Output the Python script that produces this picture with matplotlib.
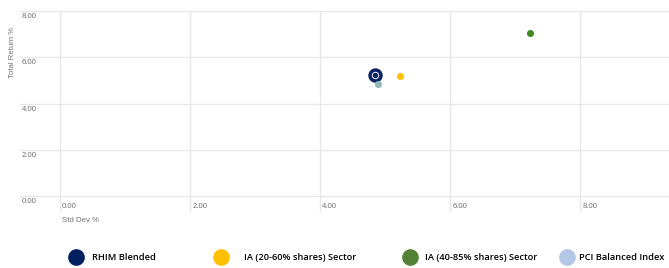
import matplotlib
matplotlib.use("Agg")
import matplotlib.pyplot as plt
from matplotlib.lines import Line2D

# ---- data ----
series = ["RHIM Blended", "IA (20-60% shares) Sector", "IA (40-85% shares) Sector", "PCI Balanced Index"]
std_dev = [4.84, 5.22, 7.23, 4.89]
total_return = [5.25, 5.18, 7.04, 4.83]
point_colors = ["#0b2461", "#ffc000", "#3b8a22", "#8fb9b9"]
legend_colors = ["#002060", "#ffc000", "#548235", "#b4c7e7"]
x_ticks = [0, 2, 4, 6, 8]
y_ticks = [0, 2, 4, 6, 8]
x_tick_labels = ["0.00", "2.00", "4.00", "6.00", "8.00"]
y_tick_labels = ["0.00", "2.00", "4.00", "6.00", "8.00"]

W, H = 669, 268
fig = plt.figure(figsize=(W / 100, H / 100), dpi=100)
fig.patch.set_facecolor("white")

# axes spans pixel x 20..669, y 11..212 (from top)
ax = fig.add_axes([20 / W, (H - 212) / H, (W - 20) / W, 201 / H])
px_per_x = 65.05
px_per_y = 23.125
ax.set_xlim(-40 / px_per_x, (W - 60) / px_per_x)
ax.set_ylim(-16 / px_per_y, 8)
for s in ax.spines.values():
    s.set_visible(False)
ax.set_xticks(x_ticks)
ax.set_yticks(y_ticks)
ax.set_xticklabels([])
ax.set_yticklabels([])
ax.tick_params(length=0)
ax.grid(True, color="#e8e8e8", linewidth=1.0)
ax.set_axisbelow(True)

tick_font = dict(family="Liberation Sans", fontsize=5.6, color="#707070")
for v, lab in zip(y_ticks, y_tick_labels):
    ax.annotate(lab, xy=(2 / 649, v), xycoords=("axes fraction", "data"),
                xytext=(0, -4), textcoords="offset points", ha="left", va="center", **tick_font)
for v, lab in zip(x_ticks, x_tick_labels):
    ax.annotate(lab, xy=(v, 0), xycoords="data",
                xytext=(1.5, -7.2), textcoords="offset points", ha="left", va="center", **tick_font)

fig.text(13 / W, 1 - 53 / H, "Total Return %", rotation=90, ha="center", va="center", **tick_font)
fig.text(62 / W, 1 - 221 / H, "Std Dev %", ha="left", va="center", **tick_font)

# points
# RHIM: ring marker
ax.scatter([std_dev[0]], [total_return[0]], s=62, facecolor="white",
           edgecolor=point_colors[0], linewidth=2.5, zorder=3)
ax.scatter([std_dev[0]], [total_return[0]], s=16, color=point_colors[0],
           linewidth=0, zorder=4)
for i in range(1, 4):
    ax.scatter([std_dev[i]], [total_return[i]], s=26, color=point_colors[i],
               linewidth=0, zorder=3)

# legend: one entry each at its own position
leg_x = [70.4, 215.4, 404.4, 561.4]
leg_pad = [1.12, 1.87, 1.01, 0.69]
for name, col, lx, pad in zip(series, legend_colors, leg_x, leg_pad):
    h = Line2D([], [], marker="o", linestyle="none", markersize=11,
               markerfacecolor=col, markeredgecolor=col)
    fig.legend(handles=[h], labels=[name], loc="center left",
               bbox_to_anchor=(lx / W, 1 - 258 / H), frameon=False,
               borderpad=0, borderaxespad=0, handlelength=1.2, handletextpad=pad,
               prop=dict(family="Open Sans", weight="semibold", size=6.7))

fig.savefig("out.png", dpi=100, facecolor="white")
